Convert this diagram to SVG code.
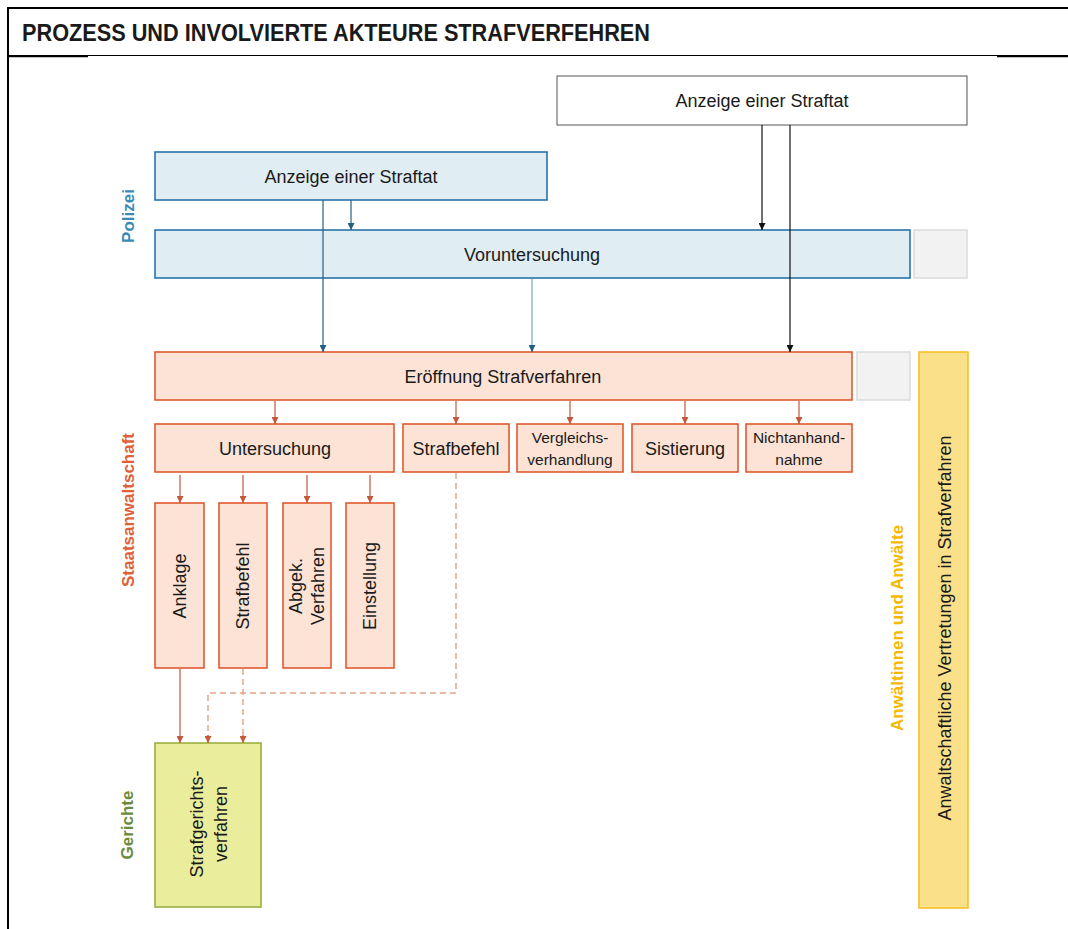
<svg xmlns="http://www.w3.org/2000/svg" width="1068" height="929" viewBox="0 0 1068 929">
<style>
text{font-family:"Liberation Sans","DejaVu Sans",sans-serif;fill:#1a1a1a}
.t{font-size:18px;text-anchor:middle}
.s{font-size:15.5px;text-anchor:middle}
.lab{font-size:17px;font-weight:bold;text-anchor:middle}
.blue{fill:#e0edf3;stroke:#2a74a8;stroke-width:1.6}
.org{fill:#fce3d6;stroke:#e05a30;stroke-width:1.6}
.grn{fill:#e9ed9c;stroke:#9ab03c;stroke-width:1.6}
.yel{fill:#fbe08a;stroke:#f7c02a;stroke-width:1.6}
.gry{fill:#f2f2f2;stroke:#dcdcdc;stroke-width:1.6}
.wht{fill:#fff;stroke:#555;stroke-width:1}
.cb{fill:none;stroke:#245f80;stroke-width:1.2}
.cbl{fill:none;stroke:#7aa3bd;stroke-width:1.2}
.ck{fill:none;stroke:#111;stroke-width:1.2}
.co{fill:none;stroke:#c4583a;stroke-width:1.2}
.cd{fill:none;stroke:#e3a285;stroke-width:1.4;stroke-dasharray:6 4}
</style>
<defs>
<marker id="ab" viewBox="0 0 10 10" refX="10" refY="5" markerWidth="7" markerHeight="7" markerUnits="userSpaceOnUse" orient="auto"><path d="M0,0L10,5L0,10z" fill="#245f80"/></marker>
<marker id="ak" viewBox="0 0 10 10" refX="10" refY="5" markerWidth="7" markerHeight="7" markerUnits="userSpaceOnUse" orient="auto"><path d="M0,0L10,5L0,10z" fill="#111"/></marker>
<marker id="ao" viewBox="0 0 10 10" refX="10" refY="5" markerWidth="7" markerHeight="7" markerUnits="userSpaceOnUse" orient="auto"><path d="M0,0L10,5L0,10z" fill="#c4583a"/></marker>
</defs>
<rect width="1068" height="929" fill="#fff"/>
<g id="frame">
<line x1="8" y1="8" x2="1068" y2="8" stroke="#000" stroke-width="2"/>
<line x1="8" y1="7" x2="8" y2="929" stroke="#000" stroke-width="2"/>
<line x1="8" y1="55.5" x2="1068" y2="55.5" stroke="#000" stroke-width="1.2"/>
<line x1="8" y1="56.5" x2="88" y2="56.5" stroke="#000" stroke-width="1.5"/>
<line x1="997" y1="56.5" x2="1068" y2="56.5" stroke="#000" stroke-width="1.5"/>
<text x="22" y="41" font-size="24" font-weight="bold" textLength="628" lengthAdjust="spacingAndGlyphs">PROZESS UND INVOLVIERTE AKTEURE STRAFVERFEHREN</text>
</g>
<g id="labels">
<text class="lab" transform="translate(128,216) rotate(-90)" y="6" style="fill:#3a8ab5">Polizei</text>
<text class="lab" transform="translate(128,510) rotate(-90)" y="6" style="fill:#e0603a">Staatsanwaltschaft</text>
<text class="lab" transform="translate(127,825) rotate(-90)" y="6" style="fill:#6b8a3a">Gerichte</text>
<text class="lab" transform="translate(897,628) rotate(-90)" y="6" style="fill:#f5b800">Anwältinnen und Anwälte</text>
</g>
<g id="n-anzeige-top"><rect class="wht" x="557" y="76" width="410" height="49"/><text class="t" x="762" y="107">Anzeige einer Straftat</text></g>
<g id="n-anzeige-pol"><rect class="blue" x="155" y="152" width="392" height="48"/><text class="t" x="351" y="183">Anzeige einer Straftat</text></g>
<g id="n-vorunt"><rect class="blue" x="155" y="230" width="755" height="48"/><text class="t" x="532" y="261">Voruntersuchung</text></g>
<g id="n-gray1"><rect class="gry" x="914" y="230" width="53" height="48"/></g>
<g id="n-eroeff"><rect class="org" x="155" y="352" width="697" height="48"/><text class="t" x="503" y="383">Eröffnung Strafverfahren</text></g>
<g id="n-gray2"><rect class="gry" x="857" y="352" width="53" height="48"/></g>
<g id="n-anwalt"><rect class="yel" x="919" y="352" width="49" height="556"/><text class="t" transform="translate(945,628) rotate(-90)" y="6">Anwaltschaftliche Vertretungen in Strafverfahren</text></g>
<g id="n-unters"><rect class="org" x="155" y="424" width="239" height="48"/><text class="t" x="275" y="455">Untersuchung</text></g>
<g id="n-strafbefehl1"><rect class="org" x="403" y="424" width="106" height="48"/><text class="t" x="456" y="455">Strafbefehl</text></g>
<g id="n-vergleich"><rect class="org" x="517" y="424" width="106" height="48"/><text class="s" x="570" y="443">Vergleichs-</text><text class="s" x="570" y="465">verhandlung</text></g>
<g id="n-sist"><rect class="org" x="632" y="424" width="106" height="48"/><text class="t" x="685" y="455">Sistierung</text></g>
<g id="n-nicht"><rect class="org" x="746" y="424" width="106" height="48"/><text class="s" x="799" y="443">Nichtanhand-</text><text class="s" x="799" y="465">nahme</text></g>
<g id="n-anklage"><rect class="org" x="155" y="503" width="49" height="165"/><text class="t" transform="translate(180,586) rotate(-90)" y="6">Anklage</text></g>
<g id="n-strafbefehl2"><rect class="org" x="219" y="503" width="48" height="165"/><text class="t" transform="translate(243,586) rotate(-90)" y="6">Strafbefehl</text></g>
<g id="n-abgek"><rect class="org" x="283" y="503" width="48" height="165"/><text class="t" transform="translate(307,586) rotate(-90)" y="-5">Abgek.</text><text class="t" transform="translate(307,586) rotate(-90)" y="17">Verfahren</text></g>
<g id="n-einst"><rect class="org" x="346" y="503" width="48" height="165"/><text class="t" transform="translate(370,586) rotate(-90)" y="6">Einstellung</text></g>
<g id="n-gericht"><rect class="grn" x="155" y="743" width="106" height="164"/><text class="t" transform="translate(208,824) rotate(-90)" y="-5">Strafgerichts-</text><text class="t" transform="translate(208,824) rotate(-90)" y="19">verfahren</text></g>
<g id="connectors">
<line class="ck" x1="762" y1="125" x2="762" y2="230" marker-end="url(#ak)"/>
<line class="ck" x1="790" y1="125" x2="790" y2="352" marker-end="url(#ak)"/>
<line class="cb" x1="351" y1="200" x2="351" y2="230" marker-end="url(#ab)"/>
<line class="cb" x1="323" y1="200" x2="323" y2="352" marker-end="url(#ab)"/>
<line class="cbl" x1="532" y1="279" x2="532" y2="350"/>
<line class="cb" x1="532" y1="345" x2="532" y2="352" marker-end="url(#ab)"/>
<line class="co" x1="275" y1="401" x2="275" y2="424" marker-end="url(#ao)"/>
<line class="co" x1="456" y1="401" x2="456" y2="424" marker-end="url(#ao)"/>
<line class="co" x1="570" y1="401" x2="570" y2="424" marker-end="url(#ao)"/>
<line class="co" x1="685" y1="401" x2="685" y2="424" marker-end="url(#ao)"/>
<line class="co" x1="799" y1="401" x2="799" y2="424" marker-end="url(#ao)"/>
<line class="co" x1="180" y1="475" x2="180" y2="503" marker-end="url(#ao)"/>
<line class="co" x1="243" y1="475" x2="243" y2="503" marker-end="url(#ao)"/>
<line class="co" x1="307" y1="475" x2="307" y2="503" marker-end="url(#ao)"/>
<line class="co" x1="370" y1="475" x2="370" y2="503" marker-end="url(#ao)"/>
<line class="co" x1="180" y1="669" x2="180" y2="743" marker-end="url(#ao)"/>
<path class="cd" d="M243,669V736"/>
<line class="co" x1="243" y1="735" x2="243" y2="743" marker-end="url(#ao)"/>
<path class="cd" d="M456,473V693H208V736"/>
<line class="co" x1="208" y1="735" x2="208" y2="743" marker-end="url(#ao)"/>
</g>
</svg>
